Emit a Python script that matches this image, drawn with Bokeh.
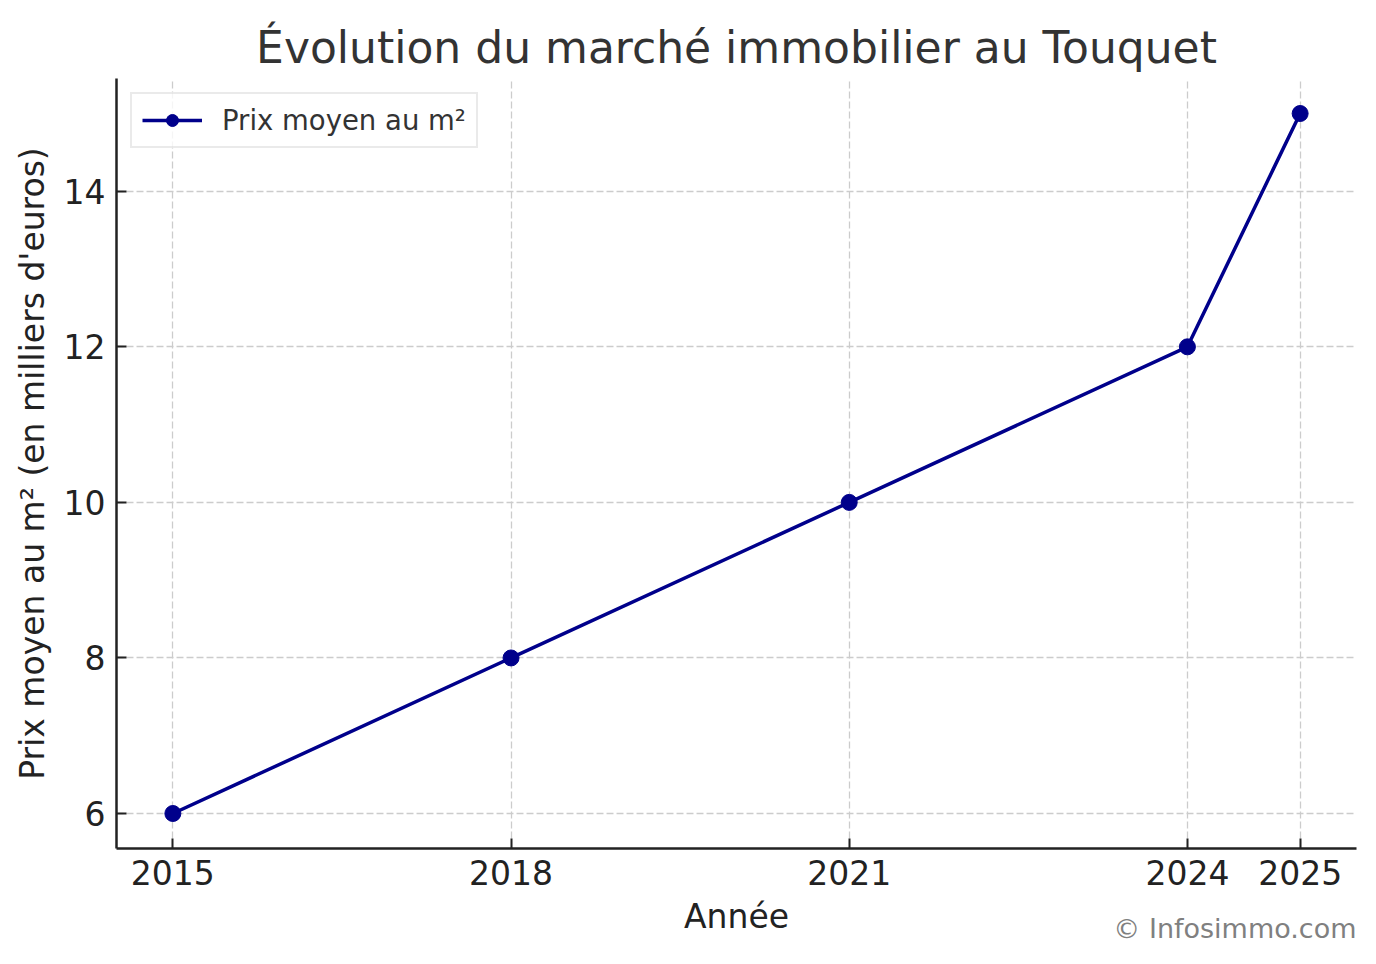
from bokeh.plotting import figure
from bokeh.models import FixedTicker, Range1d, Legend, LegendItem, ColumnDataSource, Title
from bokeh.embed import file_html
from bokeh.resources import INLINE

years = [2015, 2018, 2021, 2024, 2025]
prix = [6, 8, 10, 12, 15]
x_ticks = [2015, 2018, 2021, 2024, 2025]
y_ticks = [6, 8, 10, 12, 14]
title_text = "Évolution du marché immobilier au Touquet"
series_name = "Prix moyen au m²"
x_label = "Année"
y_label = "Prix moyen au m² (en milliers d'euros)"
credit = "© Infosimmo.com"

FONT = "DejaVu Sans"

src = ColumnDataSource(dict(x=years, y=prix))

p = figure(width=1376, height=964, output_backend="svg", toolbar_location=None,
           x_range=Range1d(2014.5, 2025.5), y_range=Range1d(5.55, 15.45),
           min_border_left=116, min_border_right=20, min_border_top=78, min_border_bottom=116)
p.outline_line_color = None
p.background_fill_color = "white"
p.border_fill_color = "white"

p.title.text = title_text
p.title.text_font = FONT
p.title.text_font_size = "44px"
p.title.text_font_style = "normal"
p.title.text_color = "#333333"
p.title.align = "center"
p.title.standoff = 12

for ax in (p.xaxis[0], p.yaxis[0]):
    ax.major_tick_in = 10
    ax.major_tick_out = 0
    ax.minor_tick_line_color = None
    ax.major_tick_line_width = 2
    ax.major_tick_line_color = "#222222"
    ax.axis_line_width = 2.5
    ax.axis_line_color = "#222222"
    ax.major_label_text_font = FONT
    ax.major_label_text_font_size = "33px"
    ax.major_label_text_color = "#222222"
    ax.major_label_standoff = 11
    ax.axis_label_text_font = FONT
    ax.axis_label_text_font_size = "33px"
    ax.axis_label_text_font_style = "normal"
    ax.axis_label_text_color = "#222222"
    ax.axis_label_standoff = 9

p.xaxis[0].ticker = FixedTicker(ticks=x_ticks)
p.yaxis[0].ticker = FixedTicker(ticks=y_ticks)
p.xaxis[0].axis_label = x_label
p.yaxis[0].axis_label = y_label

for g in (p.xgrid[0], p.ygrid[0]):
    g.grid_line_color = "#cccccc"
    g.grid_line_dash = "7 3"
    g.grid_line_width = 1.3

r_line = p.line("x", "y", source=src, line_color="#00008B", line_width=3.5)
r_pts = p.scatter("x", "y", source=src, size=16, fill_color="#00008B", line_color="#00008B")

legend = Legend(items=[LegendItem(label=series_name, renderers=[r_line, r_pts])],
                location="top_left")
legend.margin = 14
legend.padding = 10
legend.glyph_width = 60
legend.glyph_height = 30
legend.label_height = 30
legend.label_standoff = 20
legend.label_text_font = FONT
legend.label_text_font_size = "27.5px"
legend.label_text_color = "#333333"
legend.border_line_color = "#d5d5d5"
legend.border_line_width = 2
legend.background_fill_alpha = 0.8
p.add_layout(legend)

credit_title = Title(text=credit, align="right", text_font=FONT, text_font_size="27px",
                     text_font_style="normal", text_color="#808080", standoff=-51,
                     vertical_align="top")
p.add_layout(credit_title, "below")

open("out.html", "w").write(file_html(p, INLINE))
